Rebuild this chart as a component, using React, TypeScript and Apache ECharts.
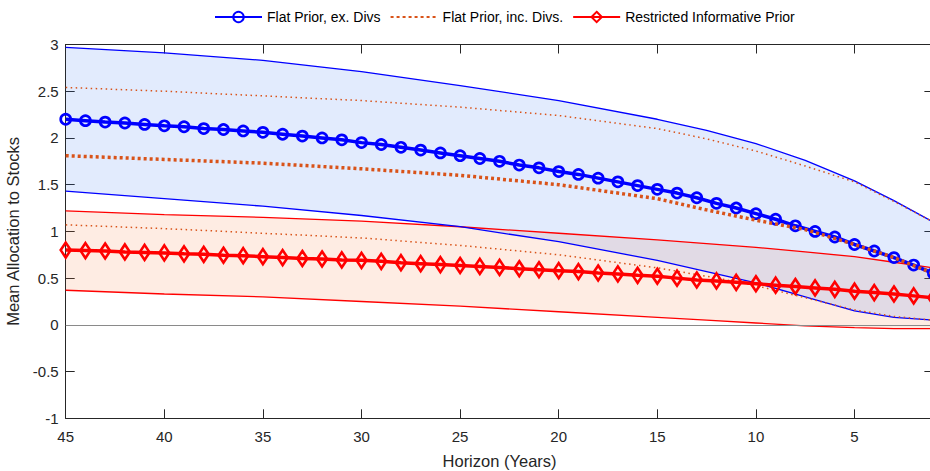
import React, { useEffect, useRef } from 'react';
import * as echarts from 'echarts';

const years = [45, 44, 43, 42, 41, 40, 39, 38, 37, 36, 35, 34, 33, 32, 31, 30, 29, 28, 27, 26, 25, 24, 23, 22, 21, 20, 19, 18, 17, 16, 15, 14, 13, 12, 11, 10, 9, 8, 7, 6, 5, 4, 3, 2, 1];
const blueMean = [2.20, 2.185, 2.17, 2.16, 2.145, 2.13, 2.12, 2.10, 2.09, 2.075, 2.06, 2.04, 2.02, 2.00, 1.98, 1.95, 1.93, 1.90, 1.87, 1.84, 1.81, 1.78, 1.75, 1.71, 1.68, 1.64, 1.61, 1.57, 1.53, 1.49, 1.45, 1.41, 1.36, 1.30, 1.25, 1.19, 1.13, 1.06, 1.00, 0.94, 0.86, 0.79, 0.72, 0.64, 0.55];
const redMean = [0.80, 0.795, 0.79, 0.78, 0.775, 0.77, 0.76, 0.755, 0.745, 0.74, 0.73, 0.72, 0.71, 0.705, 0.695, 0.69, 0.68, 0.665, 0.655, 0.645, 0.635, 0.625, 0.615, 0.60, 0.59, 0.58, 0.57, 0.555, 0.545, 0.53, 0.52, 0.50, 0.48, 0.47, 0.455, 0.44, 0.425, 0.41, 0.395, 0.38, 0.36, 0.345, 0.33, 0.31, 0.29];

const bandYears = [45, 40, 35, 30, 25, 20, 15, 12.5, 10, 7.5, 5, 3, 1];
const blueUpper = [2.97, 2.91, 2.83, 2.71, 2.56, 2.40, 2.20, 2.08, 1.94, 1.76, 1.54, 1.33, 1.10];
const blueLower = [1.43, 1.35, 1.27, 1.17, 1.05, 0.89, 0.69, 0.57, 0.45, 0.30, 0.15, 0.08, 0.05];
const orangeMean = [1.81, 1.77, 1.73, 1.67, 1.60, 1.50, 1.35, 1.23, 1.12, 1.02, 0.86, 0.72, 0.55];
const orangeUpper = [2.54, 2.50, 2.45, 2.40, 2.33, 2.24, 2.10, 1.99, 1.86, 1.70, 1.53, 1.32, 1.10];
const orangeLower = [1.07, 1.03, 0.98, 0.93, 0.85, 0.75, 0.61, 0.52, 0.42, 0.29, 0.16, 0.09, 0.05];
const redUpper = [1.22, 1.18, 1.15, 1.11, 1.05, 0.98, 0.91, 0.87, 0.83, 0.78, 0.73, 0.67, 0.61];
const redLower = [0.37, 0.33, 0.30, 0.25, 0.20, 0.14, 0.08, 0.05, 0.02, -0.01, -0.03, -0.04, -0.04];

const xTicks = [45, 40, 35, 30, 25, 20, 15, 10, 5];
const legendNames = ['Flat Prior, ex. Divs', 'Flat Prior, inc. Divs.', 'Restricted Informative Prior'];

const BLUE = '#0000ff';
const ORANGE = '#d95319';
const RED = '#ff0000';
const AX = '#262626';
const NONE = 'rgba(0,0,0,0)';
const FONT = '"Liberation Sans", Arial, Helvetica, sans-serif';

const pairs = (xs: number[], ys: number[]) => xs.map((x, i) => [x, ys[i]]);

function band(lower: number[], upper: number[], fill: string, z: number) {
  return {
    type: 'custom',
    silent: true,
    z,
    data: bandYears.map((x, i) => [x, lower[i], upper[i]]),
    encode: { x: 0, y: [1, 2] },
    renderItem: (params: any, api: any) => {
      if (params.dataIndex !== 0) return null;
      const pts: number[][] = [];
      bandYears.forEach((x, i) => pts.push(api.coord([x, upper[i]])));
      for (let i = bandYears.length - 1; i >= 0; i--) pts.push(api.coord([bandYears[i], lower[i]]));
      return { type: 'polygon', shape: { points: pts }, style: { fill, stroke: null } };
    },
  };
}

function thin(data: number[], color: string, dotted: boolean, z: number, extra: any = {}) {
  return {
    type: 'line',
    silent: true,
    z,
    symbol: 'none',
    data: pairs(bandYears, data),
    lineStyle: { color, width: dotted ? 1.5 : 1.3, type: dotted ? [1.5, 3.5] : 'solid' },
    emphasis: { disabled: true },
    ...extra,
  };
}

export default function App() {
  const ref = useRef<HTMLDivElement>(null);
  useEffect(() => {
    if (!ref.current) return;
    const chart = echarts.init(ref.current, null, { renderer: 'svg' });
    const xCommon = {
      type: 'value',
      min: 1,
      max: 45,
      inverse: true,
      splitLine: { show: false },
      axisLine: { show: true, onZero: false, lineStyle: { color: AX, width: 1 } },
      axisTick: { show: true, inside: true, length: 9, customValues: xTicks, lineStyle: { color: AX, width: 1 } },
    };
    const yCommon = {
      type: 'value',
      min: -1,
      max: 3,
      interval: 0.5,
      splitLine: { show: false },
      axisLine: { show: true, onZero: false, lineStyle: { color: AX, width: 1 } },
      axisTick: { show: true, inside: true, length: 9, lineStyle: { color: AX, width: 1 } },
    };
    chart.setOption({
      animation: false,
      textStyle: { fontFamily: FONT },
      legend: {
        data: legendNames,
        top: 5,
        left: 209,
        itemWidth: 47,
        itemHeight: 13,
        itemGap: 9,
        textStyle: { fontFamily: FONT, fontSize: 14, color: '#000' },
        selectedMode: false,
      },
      grid: { left: 65.7, right: 10.6, top: 44.5, bottom: 52.7, containLabel: false, outerBoundsMode: 'none' },
      xAxis: [
        {
          ...xCommon,
          position: 'bottom',
          name: 'Horizon (Years)',
          nameLocation: 'middle',
          nameGap: 34,
          nameTextStyle: { fontFamily: FONT, fontSize: 16.5, color: AX },
          axisLabel: { show: true, customValues: xTicks, margin: 11, fontSize: 15, color: AX, fontFamily: FONT },
        },
        { ...xCommon, position: 'top', axisLabel: { show: false } },
      ],
      yAxis: [
        {
          ...yCommon,
          position: 'left',
          name: 'Mean Allocation to Stocks',
          nameLocation: 'middle',
          nameGap: 35,
          nameTextStyle: { fontFamily: FONT, fontSize: 16.5, color: AX },
          axisLabel: { show: true, margin: 7, fontSize: 15, color: AX, fontFamily: FONT },
        },
        { ...yCommon, position: 'right', axisLabel: { show: false } },
      ],
      series: [
        band(redLower, redUpper, 'rgba(250,125,70,0.15)', 1),
        band(blueLower, blueUpper, 'rgba(60,120,240,0.15)', 2),
        thin(redLower, RED, false, 3, {
          markLine: {
            silent: true,
            symbol: 'none',
            label: { show: false },
            lineStyle: { color: '#8a8a8a', width: 1, type: 'solid' },
            data: [{ yAxis: 0 }],
          },
        }),
        thin(redUpper, RED, false, 3),
        thin(blueUpper, BLUE, false, 3),
        thin(blueLower, BLUE, false, 3),
        thin(orangeUpper, ORANGE, true, 4),
        thin(orangeLower, ORANGE, true, 4),
        {
          name: legendNames[0],
          type: 'line',
          z: 5,
          data: pairs(years, blueMean),
          symbol: 'circle',
          symbolSize: 10,
          showAllSymbol: true,
          lineStyle: { color: BLUE, width: 3.5 },
          itemStyle: { color: NONE, borderColor: BLUE, borderWidth: 2.7 },
          emphasis: { disabled: true },
        },
        {
          name: legendNames[1],
          type: 'line',
          z: 6,
          data: pairs(bandYears, orangeMean),
          symbol: 'none',
          lineStyle: { color: ORANGE, width: 3.5, type: [3, 3] },
          itemStyle: { color: NONE, borderWidth: 0 },
          emphasis: { disabled: true },
        },
        {
          name: legendNames[2],
          type: 'line',
          z: 7,
          data: pairs(years, redMean),
          symbol: 'diamond',
          symbolSize: [10, 15],
          showAllSymbol: true,
          lineStyle: { color: RED, width: 3.5 },
          itemStyle: { color: NONE, borderColor: RED, borderWidth: 2.7 },
          emphasis: { disabled: true },
        },
      ],
    });
    return () => chart.dispose();
  }, []);
  return (
    <div style={{ position: 'fixed', left: 0, top: 0, width: 930, height: 471, overflow: 'hidden', background: '#fff' }}>
      <div ref={ref} style={{ width: 944, height: 471 }} />
    </div>
  );
}
